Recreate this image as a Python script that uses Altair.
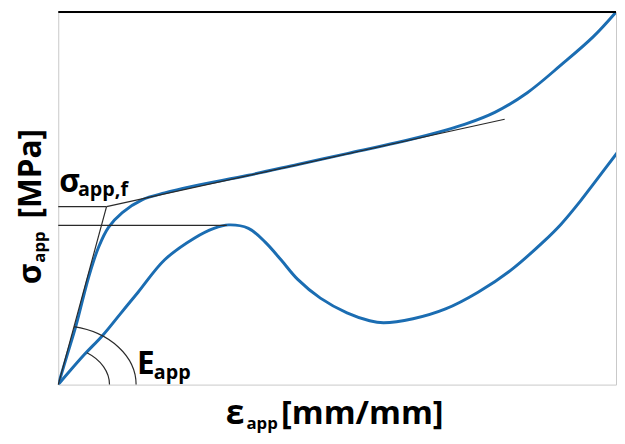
import altair as alt
import pandas as pd
import numpy as np

# ---- data (x: applied strain, y: applied stress, arbitrary units) ----
upper_x = [0, 9, 18, 31, 41, 51, 65, 85, 108, 138, 193, 243, 293, 343, 383, 413, 443, 476, 510, 543, 566]
upper_y = [0, 30, 60, 110, 140, 160, 175, 188, 195, 202, 213, 224, 235, 246, 256, 265, 277, 297, 325, 354, 379]

lower_x = [0, 26, 45, 63, 81, 108, 138, 158, 173, 193, 210, 226, 243, 266, 293, 316, 330, 360, 393, 426, 460, 493, 510, 530, 543, 568]
lower_y = [0, 30, 50, 72, 94, 127, 149, 159, 162.5, 159, 145, 127, 107, 88, 73, 65, 63, 67, 77, 94, 117, 146, 163, 187, 204, 237]

# construction lines (x, y, x2, y2)
seg_x = [0, 49, 0, 0]
seg_y = [0, 181, 181, 162]
seg_x2 = [49, 453, 49, 171]
seg_y2 = [181, 270, 181, 162]

# angle arcs: horizontal radius, vertical radius, direction of the bounding line
arc_rx = [79, 52]
arc_ry = [60, 39]
arc_dir = [(49, 181), (45, 50)]

# annotation texts
lab_text = ["σ", "app", "[MPa]", "ε", "app", "[mm/mm]", "σ", "app,f", "E", "app"]
lab_x = [-18, -13, -18, 170, 191, 226, 1, 20, 80, 97]
lab_y = [102, 124, 169, -40, -45, -40, 196, 192, 11, 6]
lab_size = [32, 17, 32, 34, 17, 33, 32, 20, 32, 20]
lab_angle = [270, 270, 270, 0, 0, 0, 0, 0, 0, 0]

BLUE = "#1b6db2"
W, H = 566, 378

curves = pd.DataFrame({
    "x": upper_x + lower_x,
    "y": upper_y + lower_y,
    "curve": ["upper"] * len(upper_x) + ["lower"] * len(lower_x),
})
segs = pd.DataFrame({"x": seg_x, "y": seg_y, "x2": seg_x2, "y2": seg_y2})
labels = pd.DataFrame({"text": lab_text, "x": lab_x, "y": lab_y,
                       "size": lab_size, "angle": lab_angle})
origin = pd.DataFrame({"x": [0], "y": [0]})

xs = alt.Scale(domain=[0, W], nice=False, zero=False)
ys = alt.Scale(domain=[0, 379], nice=False, zero=False)
ax = alt.Axis(title=None, labels=False, ticks=False, grid=False,
              domainColor="black", domainWidth=3)


def arc_path(rx, ry, d):
    r = ry / rx
    t = 1.0 / np.sqrt(d[0] ** 2 + (d[1] / r) ** 2)
    ex, ey = d[0] * t, d[1] * t
    t1 = np.arccos(ex)
    k = 4.0 / 3.0 * np.tan(t1 / 4.0)
    p1 = (1.0, -r * k)
    p2 = (ex + k * np.sin(t1), -ey + k * r * np.cos(t1))
    return (f"M1,0 C{p1[0]:.4f},{p1[1]:.4f} {p2[0]:.4f},{p2[1]:.4f} "
            f"{ex:.4f},{-ey:.4f}")


curve_layer = alt.Chart(curves).mark_line(
    clip=True, interpolate="catmull-rom", strokeWidth=3, color=BLUE
).encode(
    x=alt.X("x:Q", scale=xs, axis=ax),
    y=alt.Y("y:Q", scale=ys, axis=ax),
    detail="curve:N",
)

seg_layer = alt.Chart(segs).mark_rule(color="#2a2a2a", strokeWidth=1.2).encode(
    x=alt.X("x:Q", scale=xs, axis=None),
    y=alt.Y("y:Q", scale=ys, axis=None),
    x2="x2:Q",
    y2="y2:Q",
)

arc_layers = []
for rx, ry, d in zip(arc_rx, arc_ry, arc_dir):
    arc_layers.append(
        alt.Chart(origin).mark_point(
            shape=arc_path(rx, ry, d), size=(2 * rx) ** 2, filled=False,
            color="#2a2a2a", strokeWidth=1.2, opacity=1
        ).encode(
            x=alt.X("x:Q", scale=xs, axis=None),
            y=alt.Y("y:Q", scale=ys, axis=None),
        )
    )

top_border = alt.Chart(origin).mark_rule(color="black", strokeWidth=2).encode(
    x=alt.value(0), x2=alt.value(W), y=alt.value(0)
)

text_layer = alt.Chart(labels).mark_text(
    align="left", baseline="alphabetic", font="Open Sans", fontWeight="bold",
    color="black"
).encode(
    x=alt.X("x:Q", scale=xs, axis=None),
    y=alt.Y("y:Q", scale=ys, axis=None),
    text="text:N",
    size=alt.Size("size:Q", scale=None),
    angle=alt.Angle("angle:Q", scale=None),
)

chart = alt.layer(
    curve_layer, seg_layer, *arc_layers, top_border, text_layer
).properties(
    width=W, height=H,
    padding={"left": 7, "top": 0, "right": 0, "bottom": 0},
).configure_view(stroke="#c8c8c8", strokeWidth=1)

chart.save("out.html", embed_options={"renderer": "svg", "actions": False})
